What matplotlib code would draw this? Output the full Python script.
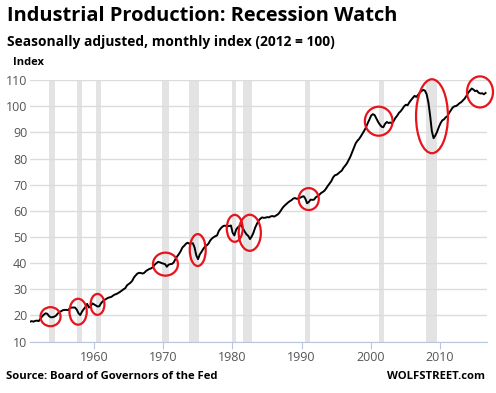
import numpy as np
import matplotlib
matplotlib.use("Agg")
import matplotlib.pyplot as plt
from matplotlib.patches import Ellipse

# Industrial production index (2012 = 100), quarterly,
# first observation at FIRST_OBS (decimal year).
FIRST_OBS = 1950.8
IP = [
    17.6, 17.8, 17.6, 17.9,   18.0, 17.8, 18.7, 19.6,   # 1951-52
    20.3, 20.8, 20.6, 19.7,   19.3, 19.3, 19.5, 19.9,   # 1953-54
    20.7, 21.3, 21.6, 22.0,   22.1, 22.1, 22.0, 22.7,   # 1955-56
    23.0, 23.0, 23.0, 22.2,   20.8, 20.1, 21.4, 22.4,   # 1957-58
    23.2, 24.4, 23.0, 23.5,   24.6, 24.2, 23.8, 23.4,   # 1959-60
    23.5, 24.6, 25.4, 25.9,   26.3, 26.7, 26.9, 27.1,   # 1961-62
    27.6, 28.0, 28.2, 28.6,   29.0, 29.5, 30.0, 30.4,   # 1963-64
    31.5, 32.0, 32.5, 33.2,   34.5, 35.3, 36.0, 36.3,   # 1965-66
    36.2, 36.0, 36.3, 37.0,   37.4, 37.8, 38.0, 38.5,   # 1967-68
    39.4, 40.0, 40.5, 40.3,   40.0, 39.8, 39.6, 38.6,   # 1969-70
    39.4, 39.6, 39.7, 40.3,   41.6, 42.6, 43.5, 44.6,   # 1971-72
    46.0, 46.6, 47.4, 47.8,   47.4, 47.6, 47.6, 46.0,   # 1973-74
    43.0, 41.5, 43.3, 44.3,   45.4, 46.3, 46.8, 47.4,   # 1975-76
    48.6, 49.4, 49.9, 50.3,   50.6, 52.3, 53.2, 53.9,   # 1977-78
    54.3, 54.3, 54.1, 54.2,   54.4, 51.6, 50.6, 52.8,   # 1979-80
    53.7, 54.2, 54.6, 53.2,   52.0, 51.0, 50.4, 49.2,   # 1981-82
    50.2, 51.6, 53.6, 55.0,   56.3, 57.0, 57.5, 57.3,   # 1983-84
    57.4, 57.6, 57.5, 57.9,   58.0, 57.8, 58.2, 58.6,   # 1985-86
    59.3, 60.3, 61.3, 62.0,   62.6, 63.2, 63.7, 64.1,   # 1987-88
    64.7, 64.9, 64.6, 64.8,   65.0, 65.4, 65.6, 64.6,   # 1989-90
    62.9, 63.4, 64.3, 64.2,   64.3, 65.2, 65.6, 66.1,   # 1991-92
    66.8, 67.2, 67.7, 68.6,   69.6, 70.5, 71.4, 72.8,   # 1993-94
    73.6, 73.8, 74.3, 74.9,   75.4, 76.5, 77.3, 78.2,   # 1995-96
    79.5, 80.8, 82.5, 84.3,   85.8, 86.8, 87.5, 88.5,   # 1997-98
    89.6, 90.7, 92.0, 93.6,   95.0, 96.5, 97.0, 96.6,   # 1999-2000
    95.3, 94.0, 93.0, 92.2,   92.0, 93.3, 94.0, 93.6,   # 2001-02
    93.8, 93.5, 94.4, 95.6,   96.4, 97.5, 98.1, 99.0,   # 2003-04
    100.0, 100.6, 100.4, 101.5,   102.4, 103.2, 104.0, 103.6,   # 2005-06
    104.3, 105.2, 105.8, 106.3,   106.0, 104.6, 101.5, 96.5,    # 2007-08
    90.5, 87.8, 88.8, 90.2,   92.0, 93.5, 94.6, 95.0,   # 2009-10
    95.8, 96.2, 97.5, 98.5,   99.5, 100.0, 100.1, 100.6,   # 2011-12
    101.2, 101.6, 102.3, 103.0,   104.0, 105.2, 106.0, 106.8,   # 2013-14
    106.4, 105.8, 106.0, 105.2,   104.9, 105.0, 104.6, 105.1,   # 2015-16
]

# NBER recessions (start, end) in decimal years
RECESSIONS = [
    (1953.5, 1954.4), (1957.6, 1958.3), (1960.3, 1961.1), (1969.9, 1970.9),
    (1973.8, 1975.2), (1980.0, 1980.5), (1981.5, 1982.9), (1990.5, 1991.2),
    (2001.2, 2001.9), (2007.9, 2009.5),
]

# red circles: (year, index, width in years, height in index points)
CIRCLES = [
    (1953.76, 19.5, 2.9, 7.3), (1957.74, 21.4, 2.5, 9.9),
    (1960.54, 24.2, 2.0, 8.0), (1970.35, 39.6, 3.6, 8.8),
    (1975.01, 45.0, 2.3, 12.2), (1980.35, 53.3, 2.3, 10.3),
    (1982.52, 51.6, 3.2, 13.8), (1991.03, 64.5, 2.9, 8.4),
    (2001.13, 94.3, 4.0, 11.1), (2008.82, 96.2, 4.6, 28.3),
    (2015.75, 105.5, 3.75, 11.9),
]

XTICKS = [1960, 1970, 1980, 1990, 2000, 2010]
YTICKS = list(range(10, 111, 10))

FONT = "Open Sans"

fig = plt.figure(figsize=(4.96, 3.93), dpi=100)
ax = fig.add_axes([0.0605, 0.131, 0.9205, 0.665])

t = FIRST_OBS + np.arange(len(IP)) / 4
for a, b in RECESSIONS:
    ax.axvspan(a, b, color="#e3e3e3", lw=0, zorder=0)
ax.plot(t, IP, color="black", lw=1.4, zorder=3)

for x, y, w, h in CIRCLES:
    ax.add_patch(Ellipse((x, y), w, h, fill=False, ec="#e8141c", lw=1.6,
                         zorder=4, clip_on=False))

ax.set_xlim(1950.8, 2016.7)
ax.set_ylim(10, 110)
ax.set_xticks(XTICKS)
ax.set_yticks(YTICKS)
ax.grid(axis="y", color="#dcdcdc", lw=1, zorder=1)
ax.set_axisbelow(True)
for s in ("top", "right", "left"):
    ax.spines[s].set_visible(False)
ax.spines["bottom"].set_color("#b8c8dc")
ax.tick_params(axis="x", colors="#b8c8dc", length=5, labelcolor="#555555",
               labelsize=9, pad=2)
ax.tick_params(axis="y", length=0, labelcolor="#555555", labelsize=9, pad=2)
for lab in ax.get_xticklabels() + ax.get_yticklabels():
    lab.set_family(FONT)

fig.text(0.014, 0.96, "Industrial Production: Recession Watch", fontsize=14.4,
         fontweight="bold", family=FONT, va="center", ha="left")
fig.text(0.014, 0.893, "Seasonally adjusted, monthly index (2012 = 100)",
         fontsize=9.9, fontweight="bold", family=FONT, va="center", ha="left")
fig.text(0.026, 0.842, "Index", fontsize=8, fontweight="bold", family=FONT,
         va="center", ha="left")
fig.text(0.012, 0.043, "Source: Board of Governors of the Fed", fontsize=8.1,
         fontweight="bold", family=FONT, va="center", ha="left")
fig.text(0.978, 0.043, "WOLFSTREET.com", fontsize=8.1, fontweight="bold",
         family=FONT, va="center", ha="right")

fig.savefig("out.png", dpi=100)
